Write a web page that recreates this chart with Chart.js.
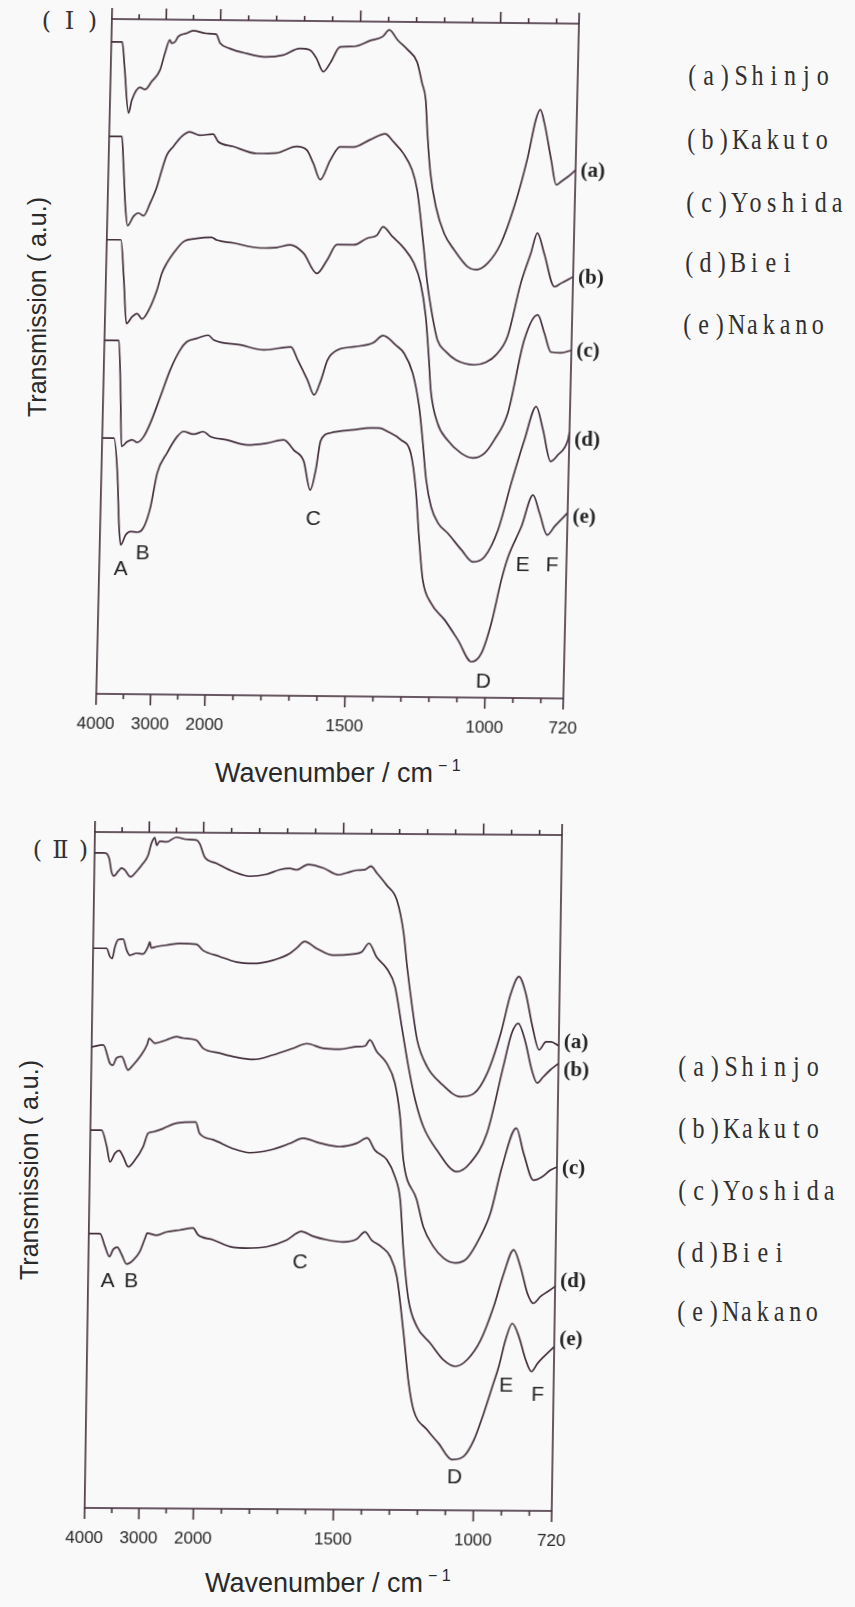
<!DOCTYPE html>
<html>
<head>
<meta charset="utf-8">
<script src="https://cdn.jsdelivr.net/npm/chart.js@4.4.1/dist/chart.umd.min.js"></script>
<style>
  html, body { margin: 0; padding: 0; }
  body { width: 855px; height: 1607px; background: #f9f9fa; position: relative; overflow: hidden;
         font-family: "Liberation Sans", Arial, sans-serif; color: #2a2a2a; }
  canvas { position: absolute; }
  .ytitle { position: absolute; white-space: nowrap; font-size: 25px; transform: translate(-50%, -50%) rotate(-90deg); }
  .xtitle { position: absolute; white-space: nowrap; font-size: 27px; line-height: 27px; }
  .xtitle span { position: relative; top: -11px; font-size: 16px; margin-left: 5px; }
  .panel-no { position: absolute; font-family: "DejaVu Serif", "Liberation Serif", serif; font-size: 24px; line-height: 24px; color: #333; white-space: nowrap; }
  .panel-no span { display: inline-block; width: 23px; text-align: center; }
  .legend { position: absolute; font-family: "Liberation Serif", serif; font-size: 30px; line-height: 30px; color: #303030;
            transform: scaleX(0.8); transform-origin: 0 0; white-space: nowrap; }
  .cell { display: inline-block; width: 20.4px; text-align: center; }
</style>
</head>
<body>

<div class="panel-no" style="left:35px;top:9px"><span>(</span><span>Ⅰ</span><span>)</span></div>
<div class="ytitle" style="left:37px;top:307px">Transmission ( a.u.)</div>
<div class="xtitle" style="left:215px;top:760px">Wavenumber / cm<span>− 1</span></div>

<div class="panel-no" style="left:26px;top:838px"><span>(</span><span>Ⅱ</span><span>)</span></div>
<div class="ytitle" style="left:29px;top:1170px">Transmission ( a.u.)</div>
<div class="xtitle" style="left:205px;top:1570px">Wavenumber / cm<span>− 1</span></div>

<canvas id="panel1" width="557" height="735"></canvas>
<canvas id="panel2" width="557" height="736"></canvas>

<script>
// wavenumber axis: 4000-2000 compressed, 2000-720 expanded
const BREAK_WN = 2000;
const HIGH_SCALE = 5.15;
const toAxis = w => (w >= BREAK_WN ? (BREAK_WN - w) / HIGH_SCALE : BREAK_WN - w);
const fromAxis = u => (u <= 0 ? BREAK_WN - u * HIGH_SCALE : BREAK_WN - u);

const tickLabels = [4000, 3000, 2000, 1500, 1000, 720];
const tickMarks = [4000, 3500, 3000, 2500, 2000, 1900, 1800, 1700, 1600, 1500,
                   1400, 1300, 1200, 1100, 1000, 900, 800, 720];

const curveLetters = ['a', 'b', 'c', 'd', 'e'];
const sampleNames = ['Shinjo', 'Kakuto', 'Yoshida', 'Biei', 'Nakano'];
const peakNames = ['A', 'B', 'C', 'D', 'E', 'F'];

// ---- panel I ----
const wnA1 = [4000, 3800, 3747, 3654, 3599, 3453, 3360, 3241, 3094, 3010, 2924, 2893, 2830, 2772, 2622, 2501, 2256, 2077, 2000, 1965,
  1905, 1833, 1774, 1715, 1679, 1655, 1629, 1605, 1571, 1522, 1463, 1420, 1397, 1366, 1330, 1295, 1275, 1261, 1252, 1238,
  1216, 1184, 1147, 1097, 1067, 1026, 981, 936, 892, 866, 851, 835, 808, 788, 770, 747, 720];
const trA1 = [96.6, 96.6, 92.9, 86.1, 88.0, 89.9, 89.6, 90.8, 92.5, 95.0, 97.0, 96.5, 96.7, 97.5, 98.0, 98.4, 98.0, 97.9, 96.6, 95.8,
  95.1, 94.6, 94.9, 95.9, 95.7, 94.5, 92.5, 93.8, 96.2, 96.3, 97.2, 97.8, 98.8, 97.3, 95.9, 94.1, 90.9, 88.5, 83.5, 77.6,
  72.7, 68.7, 66.3, 63.8, 63.4, 64.4, 67.3, 72.8, 80.1, 85.7, 87.2, 85.2, 79.8, 76.1, 76.6, 77.3, 78.3];

const wnB1 = [4000, 3766, 3722, 3672, 3623, 3519, 3429, 3334, 3217, 3101, 3017, 2933, 2816, 2668, 2520, 2333, 2089, 1999, 1945, 1860,
  1789, 1718, 1682, 1657, 1631, 1597, 1563, 1515, 1456, 1403, 1372, 1336, 1304, 1284, 1270, 1255, 1240, 1219, 1199, 1168,
  1132, 1066, 1024, 989, 949, 906, 873, 851, 825, 786, 763, 720];
const trB1 = [82.6, 82.6, 78.1, 72.2, 69.4, 70.8, 71.3, 70.9, 72.8, 75.2, 77.7, 79.9, 81.2, 82.7, 83.4, 82.9, 83.1, 82.0, 81.3, 80.3,
  80.4, 81.4, 80.9, 78.9, 76.5, 79.4, 81.4, 81.4, 82.5, 83.4, 82.2, 80.5, 78.1, 75.1, 71.2, 66.3, 61.3, 56.4, 52.9, 51.2,
  50.0, 49.3, 49.7, 50.8, 53.6, 61.5, 65.9, 68.9, 65.9, 61.0, 61.5, 62.5];

const wnC1 = [4000, 3740, 3669, 3603, 3502, 3411, 3317, 3200, 3056, 2972, 2886, 2768, 2591, 2348, 2073, 1996, 1936, 1840, 1780, 1733,
  1685, 1635, 1600, 1566, 1506, 1459, 1423, 1403, 1369, 1327, 1290, 1264, 1243, 1228, 1219, 1192, 1155, 1106, 1064, 1022,
  988, 942, 889, 843, 818, 793, 757, 720];
const trC1 = [67.3, 67.3, 61.4, 54.9, 55.9, 56.4, 55.6, 56.9, 59.9, 62.4, 63.9, 65.4, 67.1, 67.6, 67.8, 67.4, 67.0, 66.3, 66.4, 66.8,
  65.6, 62.6, 64.6, 66.9, 66.9, 67.9, 68.4, 69.6, 68.2, 66.5, 64.3, 61.3, 56.4, 50.0, 45.5, 40.6, 38.1, 36.2, 35.5, 36.2,
  38.2, 42.2, 53.1, 56.8, 54.1, 51.3, 51.2, 51.6];

const wnD1 = [4000, 3736, 3683, 3640, 3537, 3447, 3354, 3235, 3120, 2948, 2778, 2602, 2485, 2302, 2093, 1998, 1902, 1818, 1722, 1697,
  1660, 1635, 1612, 1590, 1555, 1496, 1429, 1394, 1347, 1317, 1285, 1259, 1244, 1228, 1208, 1182, 1146, 1097, 1054, 1013,
  967, 924, 880, 841, 815, 785, 759, 725, 720];
const trD1 = [52.4, 52.4, 45.1, 36.7, 37.4, 37.7, 37.3, 38.2, 40.2, 44.1, 48.1, 51.1, 52.3, 52.8, 53.3, 52.6, 51.9, 51.2, 51.7, 49.8,
  46.8, 44.6, 46.8, 49.8, 51.3, 51.8, 52.4, 53.5, 52.1, 50.9, 48.0, 43.0, 38.1, 32.2, 28.2, 25.8, 24.3, 21.9, 20.1, 20.9,
  24.9, 31.8, 38.3, 43.2, 39.8, 35.1, 36.1, 38.3, 39.5];

const wnE1 = [4000, 3784, 3705, 3652, 3614, 3526, 3436, 3314, 3195, 3081, 2973, 2800, 2624, 2507, 2322, 2141, 2015, 1942, 1870, 1799,
  1740, 1703, 1667, 1641, 1623, 1608, 1573, 1490, 1430, 1400, 1370, 1322, 1285, 1264, 1248, 1232, 1200, 1151, 1101, 1051,
  1016, 983, 951, 929, 884, 845, 820, 791, 765, 720];
const trE1 = [37.9, 37.9, 32.7, 24.8, 22.1, 23.6, 24.1, 24.0, 24.8, 27.8, 32.8, 35.8, 38.2, 39.0, 38.6, 39.0, 38.3, 37.8, 37.1, 37.4,
  37.9, 36.4, 34.8, 30.5, 33.5, 37.8, 39.0, 39.5, 39.8, 39.8, 39.3, 38.1, 36.1, 30.7, 23.3, 17.4, 13.9, 11.5, 8.5, 5.3,
  6.6, 11.1, 17.5, 20.9, 25.4, 30.1, 27.4, 24.2, 25.5, 27.5];

const peakWn1 = [3603, 3208, 1628, 1007, 876, 771];
const peakTr1 = [18.5, 20.8, 26.2, 2.4, 19.6, 19.7];
const endLabelTr1 = [78.1, 62.3, 51.5, 38.3, 26.9];

// ---- panel II ----
const wnA2 = [4000, 3811, 3730, 3683, 3639, 3561, 3499, 3438, 3332, 3224, 3105, 3015, 2956, 2897, 2860, 2807, 2682, 2499, 2316, 2132,
  2070, 1995, 1953, 1893, 1833, 1774, 1726, 1690, 1666, 1625, 1571, 1517, 1487, 1451, 1421, 1401, 1379, 1343, 1306, 1280,
  1266, 1246, 1226, 1189, 1140, 1068, 1020, 974, 928, 894, 866, 841, 815, 790, 766, 748, 720];
const trA2 = [96.9, 96.9, 96.1, 94.1, 93.5, 94.2, 94.7, 94.4, 93.4, 94.2, 95.4, 96.6, 98.4, 99.2, 98.1, 98.7, 98.6, 99.3, 99.0, 98.9,
  98.4, 96.4, 95.5, 94.3, 93.6, 93.9, 94.6, 94.8, 94.6, 95.4, 94.9, 93.9, 94.2, 94.6, 94.7, 95.2, 94.2, 92.4, 90.2, 85.3,
  80.4, 74.5, 69.5, 65.6, 63.2, 61.2, 61.7, 64.7, 70.6, 76.5, 79.0, 76.6, 71.6, 68.2, 69.4, 69.4, 68.8];

const wnB2 = [4000, 3752, 3690, 3646, 3600, 3541, 3450, 3385, 3323, 3200, 3079, 2989, 2960, 2930, 2835, 2591, 2409, 2103, 1996, 1936,
  1876, 1817, 1745, 1686, 1662, 1633, 1591, 1531, 1459, 1429, 1403, 1376, 1339, 1308, 1282, 1256, 1230, 1199, 1150, 1077,
  1030, 972, 917, 889, 866, 841, 815, 795, 774, 750, 720];
const trB2 = [82.8, 82.8, 81.6, 81.3, 83.0, 84.1, 84.2, 82.6, 81.8, 82.1, 82.0, 83.1, 83.8, 82.9, 83.1, 83.4, 83.6, 83.5, 82.6, 81.7,
  80.9, 80.7, 81.2, 82.2, 83.0, 84.0, 83.0, 82.0, 82.2, 82.5, 83.8, 81.8, 80.1, 77.4, 71.5, 65.6, 60.7, 56.7, 53.3, 50.1,
  51.4, 55.8, 65.7, 70.6, 72.1, 69.6, 65.2, 63.3, 64.2, 65.2, 66.2];

const wnC2 = [4000, 3787, 3659, 3609, 3538, 3446, 3321, 3260, 3110, 2980, 2945, 2838, 2626, 2442, 2321, 2075, 1990, 1930, 1870, 1810,
  1739, 1668, 1620, 1561, 1501, 1442, 1412, 1395, 1370, 1334, 1303, 1283, 1269, 1219, 1194, 1157, 1120, 1078, 1036, 990,
  955, 916, 867, 840, 803, 773, 744, 720];
const trC2 = [68.2, 68.5, 65.8, 65.5, 66.6, 66.8, 64.8, 65.3, 66.8, 68.6, 69.5, 68.8, 69.3, 69.8, 69.6, 69.3, 68.1, 67.4, 66.8, 66.5,
  67.2, 68.2, 68.9, 68.2, 68.1, 68.5, 68.6, 69.5, 67.8, 66.1, 63.1, 58.2, 51.8, 45.9, 41.9, 39.0, 37.3, 36.6, 37.3, 40.5,
  44.0, 50.9, 56.6, 52.9, 48.9, 49.4, 50.4, 50.9];

const wnD2 = [4000, 3793, 3695, 3631, 3541, 3464, 3389, 3294, 3172, 3024, 2936, 2844, 2662, 2418, 2064, 1998, 1950, 1878, 1818, 1747,
  1676, 1628, 1568, 1496, 1437, 1399, 1371, 1328, 1298, 1278, 1264, 1243, 1211, 1163, 1114, 1072, 1030, 983, 938, 904,
  870, 845, 819, 797, 772, 748, 720];
const trD2 = [55.9, 55.9, 53.5, 51.2, 52.5, 52.9, 52.0, 50.5, 51.5, 53.5, 55.5, 55.7, 56.2, 57.0, 57.2, 55.5, 54.6, 53.3, 52.7, 53.1,
  54.1, 54.9, 54.2, 53.7, 54.2, 55.0, 53.2, 51.8, 49.3, 45.9, 38.5, 31.1, 27.1, 24.7, 22.2, 21.3, 22.3, 25.2, 30.2, 35.1,
  38.6, 36.1, 32.2, 30.7, 31.7, 32.4, 33.2];

const wnE2 = [4000, 3794, 3699, 3616, 3545, 3473, 3389, 3295, 3176, 3055, 2967, 2927, 2752, 2571, 2327, 2084, 1998, 1945, 1873, 1825,
  1753, 1682, 1629, 1587, 1539, 1479, 1432, 1402, 1378, 1342, 1311, 1286, 1259, 1238, 1219, 1170, 1128, 1079, 1037, 1002,
  968, 939, 917, 894, 871, 847, 821, 800, 779, 757, 720];
const trE2 = [40.6, 40.6, 38.7, 37.2, 38.3, 38.6, 37.5, 36.1, 36.7, 38.0, 39.9, 40.7, 40.4, 40.9, 41.2, 41.5, 40.5, 39.8, 38.7, 38.6,
  38.8, 39.8, 41.1, 40.4, 39.9, 39.6, 40.0, 41.1, 39.9, 38.9, 37.5, 34.5, 26.2, 18.8, 14.8, 11.9, 9.9, 7.5, 8.0, 10.4,
  14.4, 18.3, 21.3, 25.3, 27.7, 25.8, 22.3, 20.6, 21.8, 22.8, 24.3];

const peakWn2 = [3639, 3205, 1632, 1069, 890, 777];
const peakTr2 = [33.6, 33.6, 36.5, 4.9, 18.4, 17.1];
const endLabelTr2 = [69.3, 65.1, 50.7, 33.9, 25.4];

const LINE = '#45303d';
const TEXT = '#242424';
const PLOT_W = 467;
Chart.defaults.font.family = '"Liberation Sans", Arial, sans-serif';

// box, tick marks, peak letters and (a)-(e) tags
const spectrumFrame = {
  id: 'spectrumFrame',
  beforeDatasetsDraw(chart) {
    const { ctx, chartArea: { left, right, top, bottom }, scales: { x } } = chart;
    ctx.save();
    ctx.strokeStyle = LINE;
    ctx.lineWidth = 1.6;
    ctx.strokeRect(left, top, right - left, bottom - top);
    ctx.beginPath();
    tickMarks.forEach(w => {
      const px = x.getPixelForValue(toAxis(w));
      const len = tickLabels.includes(w) ? 11 : 5;
      ctx.moveTo(px, bottom);
      ctx.lineTo(px, bottom + len);
      ctx.moveTo(px, top);
      ctx.lineTo(px, top - len);
    });
    ctx.stroke();
    ctx.restore();
  },
  afterDatasetsDraw(chart, args, opts) {
    const { ctx, chartArea, scales: { x, y } } = chart;
    ctx.save();
    ctx.fillStyle = TEXT;
    ctx.font = '21px "Liberation Sans", Arial, sans-serif';
    ctx.textAlign = 'center';
    ctx.textBaseline = 'middle';
    peakNames.forEach((p, i) => {
      ctx.fillText(p, x.getPixelForValue(toAxis(opts.peakWn[i])), y.getPixelForValue(opts.peakTr[i]));
    });
    ctx.font = 'bold 21px "Liberation Serif", serif';
    ctx.textAlign = 'left';
    curveLetters.forEach((c, i) => {
      ctx.fillText('(' + c + ')', chartArea.right + 5, y.getPixelForValue(opts.endTr[i]));
    });
    ctx.restore();
  }
};

function buildChart(canvas, series, peakWn, peakTr, endTr) {
  return new Chart(canvas, {
    type: 'line',
    data: {
      datasets: series.map(([wn, tr], k) => ({
        label: sampleNames[k],
        data: wn.map((w, i) => ({ x: toAxis(w), y: tr[i] })),
        borderColor: LINE,
        borderWidth: 1.7,
        pointRadius: 0,
        fill: false,
        cubicInterpolationMode: 'monotone'
      }))
    },
    options: {
      responsive: false,
      animation: false,
      events: [],
      layout: { padding: { left: 30, right: 60, top: 20, bottom: 0 } },
      plugins: {
        legend: { display: false },
        tooltip: { enabled: false },
        spectrumFrame: { peakWn, peakTr, endTr }
      },
      scales: {
        x: {
          type: 'linear',
          min: toAxis(4000),
          max: toAxis(720),
          grid: { display: false, drawTicks: false },
          border: { display: false },
          afterBuildTicks: s => { s.ticks = tickLabels.map(w => ({ value: toAxis(w) })); },
          afterFit: s => { s.height = 40; },
          ticks: {
            autoSkip: false,
            maxRotation: 0,
            padding: 20,
            color: TEXT,
            font: { size: 17 },
            callback: v => String(Math.round(fromAxis(v)))
          }
        },
        y: { display: false, min: 0, max: 100 }
      }
    },
    plugins: [spectrumFrame]
  });
}

function drawPanel(id, series, peakWn, peakTr, endTr, plotH, originX, originY, skewB, skewC) {
  const canvas = document.getElementById(id);
  let chart = buildChart(canvas, series, peakWn, peakTr, endTr);
  let area = chart.chartArea;
  // grow the canvas until the plot box has the wanted size
  const dw = Math.round(PLOT_W - (area.right - area.left));
  const dh = Math.round(plotH - (area.bottom - area.top));
  if (dw !== 0 || dh !== 0) {
    const w = canvas.width + dw, h = canvas.height + dh;
    chart.destroy();
    canvas.width = w;
    canvas.height = h;
    chart = buildChart(canvas, series, peakWn, peakTr, endTr);
    area = chart.chartArea;
  }
  canvas.style.left = (originX - area.left) + 'px';
  canvas.style.top = (originY - area.top) + 'px';
  canvas.style.transformOrigin = area.left + 'px ' + area.top + 'px';
  canvas.style.transform = 'matrix(1,' + skewB + ',' + skewC + ',1,0,0)';
}

drawPanel('panel1', [[wnA1, trA1], [wnB1, trB1], [wnC1, trC1], [wnD1, trD1], [wnE1, trE1]],
  peakWn1, peakTr1, endLabelTr1, 675, 111.7, 19, 0.01, -0.0232);
drawPanel('panel2', [[wnA2, trA2], [wnB2, trB2], [wnC2, trC2], [wnD2, trD2], [wnE2, trE2]],
  peakWn2, peakTr2, endLabelTr2, 676, 95, 832, 0.0065, -0.0152);

// sample legends, one fixed-width cell per character
function addLegend(lefts, tops) {
  curveLetters.forEach((c, i) => {
    const line = document.createElement('div');
    line.className = 'legend';
    line.style.left = lefts[i] + 'px';
    line.style.top = tops[i] + 'px';
    for (const ch of '(' + c + ')' + sampleNames[i]) {
      const cell = document.createElement('span');
      cell.className = 'cell';
      cell.textContent = ch;
      line.appendChild(cell);
    }
    document.body.appendChild(line);
  });
}
addLegend([684, 683, 682, 681, 679], [60, 123.5, 186.5, 246.5, 309]);
addLegend([674, 674, 674, 673, 673], [1050.5, 1112.5, 1174.5, 1236.5, 1296]);
</script>
</body>
</html>
